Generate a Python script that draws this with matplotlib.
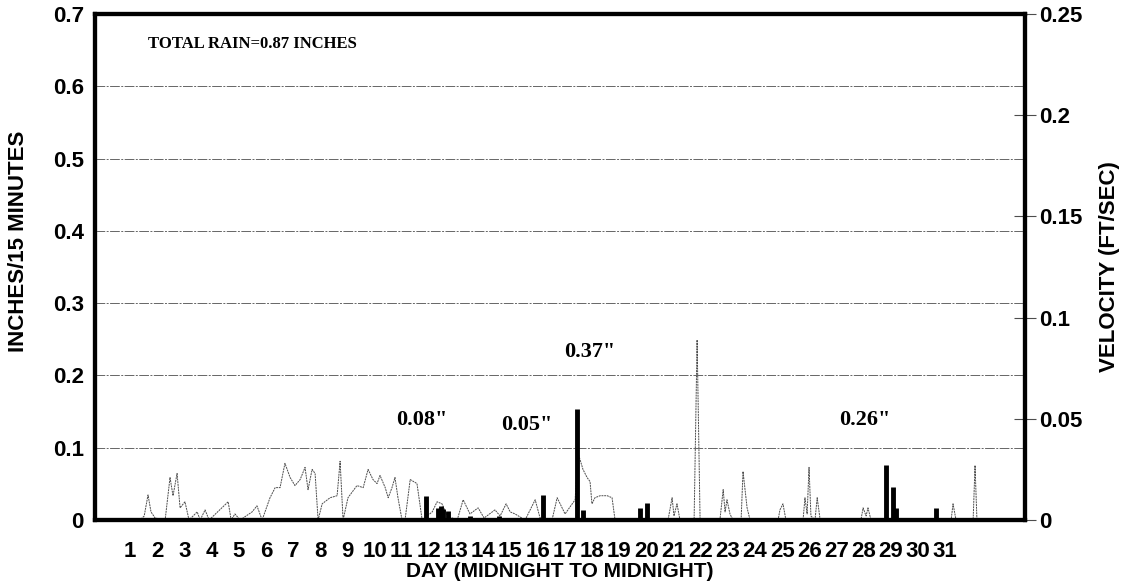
import matplotlib
matplotlib.use("Agg")
import matplotlib.pyplot as plt

# rain per 15 minutes (inches), day position of each bar
rain_day = [11.89, 12.34, 12.45, 12.52, 12.70, 13.51, 14.58, 16.20, 17.45, 17.67,
            19.77, 20.03, 28.82, 29.08, 29.19, 30.66]
rain_in = [0.033, 0.017, 0.019, 0.015, 0.013, 0.005, 0.006, 0.034, 0.154, 0.014,
           0.017, 0.024, 0.076, 0.046, 0.017, 0.016]

# velocity (ft/sec)
vel_day = [-0.29, 1.37, 1.52, 1.66, 1.77, 1.92, 2.29, 2.47, 2.58, 2.73, 2.84, 3.02, 3.17,
           3.47, 3.58, 3.76, 3.91, 4.61, 4.72, 4.86, 5.05, 5.49, 5.67, 5.86,
           6.15, 6.34, 6.52, 6.70, 6.89, 7.07, 7.26, 7.44, 7.55, 7.70, 7.81, 7.92,
           8.07, 8.36, 8.62, 8.73, 8.84, 9.02, 9.35, 9.58, 9.76, 9.94, 10.09, 10.20,
           10.39, 10.50, 10.64, 10.75, 10.86, 11.01, 11.12, 11.31, 11.56, 11.75,
           12.12, 12.30, 12.48, 12.67, 13.04, 13.26, 13.51, 13.81, 14.03, 14.43,
           14.62, 14.84, 14.99, 15.17, 15.54, 15.91, 16.09, 16.53, 16.72, 17.01,
           17.38, 17.49, 17.67, 17.82, 17.93, 18.00, 18.11, 18.30, 18.56, 18.74,
           18.85, 20.80, 20.95, 21.02, 21.13, 21.24, 21.76, 21.87, 21.98, 22.71,
           22.83, 22.90, 22.97, 23.08, 23.19, 23.49, 23.56, 23.71, 23.82, 24.85,
           24.92, 25.03, 25.14, 25.77, 25.84, 25.92, 25.99, 26.06, 26.21, 26.29,
           26.40, 27.90, 27.98, 28.09, 28.16, 28.27, 31.22, 31.29, 31.40, 32.03,
           32.10, 32.17, 33.94]
vel_fps = [0, 0, 0.002, 0.0124, 0.004, 0.001, 0, 0.021, 0.012, 0.023, 0.006, 0.009, 0,
           0.004, 0, 0.005, 0, 0.009, 0, 0.003, 0, 0.004, 0.007, 0,
           0.011, 0.016, 0.016, 0.028, 0.021, 0.017, 0.020, 0.026, 0.015, 0.025, 0.023, 0.0,
           0.008, 0.011, 0.012, 0.029, 0.0, 0.011, 0.017, 0.016, 0.025, 0.020, 0.018, 0.022,
           0.016, 0.011, 0.016, 0.021, 0.011, 0, 0.0, 0.020, 0.018, 0,
           0.004, 0.009, 0.008, 0.002, 0.0, 0.010, 0.003, 0.006, 0.001, 0.005,
           0.002, 0.008, 0.004, 0.003, 0, 0.010, 0.001, 0.0, 0.011, 0.003,
           0.010, 0.033, 0.025, 0.021, 0.019, 0.008, 0.011, 0.012, 0.012, 0.011,
           0, 0, 0.011, 0.002, 0.008, 0, 0, 0.089, 0, 0,
           0.015, 0.004, 0.010, 0.003, 0, 0, 0.024, 0.006, 0, 0,
           0.005, 0.008, 0, 0, 0.011, 0.003, 0.026, 0.002, 0, 0.011,
           0, 0, 0.006, 0.002, 0.006, 0, 0, 0.008, 0, 0,
           0.027, 0, 0]

day_ticks = list(range(1, 32))
left_ticks = [0, 0.1, 0.2, 0.3, 0.4, 0.5, 0.6, 0.7]
left_labels = ["0", "0.1", "0.2", "0.3", "0.4", "0.5", "0.6", "0.7"]
right_ticks = [0, 0.05, 0.1, 0.15, 0.2, 0.25]
right_labels = ["0", "0.05", "0.1", "0.15", "0.2", "0.25"]

event_day = [11.75, 15.61, 17.93, 28.05]
event_y = [0.139, 0.132, 0.232, 0.139]
event_txt = ['0.08"', '0.05"', '0.37"', '0.26"']

plt.rcParams['font.family'] = ['Liberation Sans', 'DejaVu Sans']
plt.rcParams['font.weight'] = 'bold'

fig = plt.figure(figsize=(11.3, 5.85), dpi=100)
ax = fig.add_axes([0.0841, 0.1111, 0.823, 0.865])
ax2 = ax.twinx()

ax.set_xlim(-0.29, 33.94)
ax.set_ylim(0, 0.7)
ax2.set_ylim(0, 0.25)

for y in left_ticks[1:-1]:
    ax.axhline(y, color='0.4', lw=0.7, ls=(0, (10, 1.5, 2, 1.5)), zorder=1)

ax2.plot(vel_day, vel_fps, color='0.3', lw=0.7, ls=(0, (2, 0.8)), zorder=2)
ax.vlines(rain_day, 0, rain_in, color='black', lw=3.5, zorder=3)

ax.set_xticks(day_ticks)
ax.set_xticklabels([str(d) for d in day_ticks], fontsize=16, fontweight='bold')
ax.tick_params(axis='x', length=0, pad=15)
ax.set_yticks(left_ticks)
ax.set_yticklabels(left_labels, fontsize=16, fontweight='bold')
ax.tick_params(axis='y', length=0, pad=8)
ax2.set_yticks(right_ticks)
ax2.set_yticklabels(right_labels, fontsize=16, fontweight='bold')
ax2.tick_params(axis='y', direction='inout', length=16, width=0.8, color='0.3', pad=2)

for a in (ax, ax2):
    for s in a.spines.values():
        s.set_linewidth(3)
        s.set_color('black')
ax.set_zorder(ax2.get_zorder() + 1)
ax.patch.set_visible(False)

ax.set_xlabel("DAY (MIDNIGHT TO MIDNIGHT)", fontsize=15, fontweight='bold', labelpad=0)
ax.set_ylabel("INCHES/15 MINUTES", fontsize=16, fontweight='bold')
ax.yaxis.set_label_coords(-0.071, 0.55)
ax2.set_ylabel("VELOCITY (FT/SEC)", fontsize=16, fontweight='bold', labelpad=12)

ax.text(1.66, 0.658, "TOTAL RAIN=0.87 INCHES", family='Liberation Serif', fontsize=12,
        fontweight='bold', ha='left', va='center')
for d, y, t in zip(event_day, event_y, event_txt):
    bb = dict(facecolor='white', edgecolor='none', pad=6) if t == '0.37"' else None
    ax.text(d, y, t, family='Liberation Serif', fontsize=16, fontweight='bold',
            ha='center', va='center', bbox=bb, zorder=4)

fig.savefig("out.png", dpi=100)
